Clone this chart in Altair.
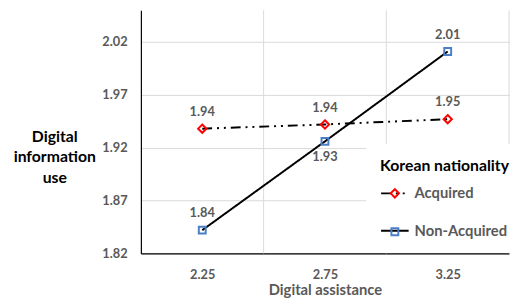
import altair as alt
import pandas as pd

# ---- data ----
x_vals = [2.25, 2.75, 3.25]
acquired = [1.938, 1.942, 1.947]
non_acquired = [1.842, 1.926, 2.011]
labels_acq = ["1.94", "1.94", "1.95"]
labels_non = ["1.84", "1.93", "2.01"]
pos_acq = ["above", "above", "above"]
pos_non = ["above", "below", "above"]
series_names = ["Acquired", "Non-Acquired"]
grid_x = [2.5, 3.0, 3.5]
y_ticks = [1.82, 1.87, 1.92, 1.97, 2.02]

rows = []
for name, vals, labs, poss in [("Acquired", acquired, labels_acq, pos_acq),
                               ("Non-Acquired", non_acquired, labels_non, pos_non)]:
    for x, v, l, p in zip(x_vals, vals, labs, poss):
        rows.append({"x": x, "y": v, "series": name, "series_pt": name, "label": l, "pos": p})
df = pd.DataFrame(rows)
grid_df = pd.DataFrame({"gx": grid_x})

FONT = "Lato"
GRAY = "#595959"
GRID = "#d9d9d9"

xscale = alt.Scale(domain=[2.0, 3.5], nice=False, zero=False)
yscale = alt.Scale(domain=[1.82, 2.05], nice=False, zero=False)

x_enc = alt.X("x:Q", scale=xscale, axis=alt.Axis(
    values=x_vals, format=".2f", grid=False, ticks=False,
    domainColor="#000000", domainWidth=1.2,
    labelFont=FONT, labelFontWeight="bold", labelFontSize=13, labelColor=GRAY,
    labelPadding=15,
    title="Digital assistance", titleFont=FONT, titleFontWeight="bold",
    titleFontSize=15, titleColor=GRAY, titlePadding=2))
y_enc = alt.Y("y:Q", scale=yscale, axis=alt.Axis(
    values=y_ticks, format=".2f", grid=True, gridColor=GRID, gridWidth=1,
    ticks=False, domainColor="#000000", domainWidth=1.2,
    labelFont=FONT, labelFontWeight="bold", labelFontSize=13, labelColor=GRAY,
    labelPadding=14,
    title=["Digital", "information", "use"], titleFont=FONT, titleFontWeight="bold",
    titleFontSize=16, titleColor="#000000", titleAngle=0, titleAlign="center",
    titleBaseline="top", titleX=-88, titleY=120, titleLineHeight=21))

grid_rules = alt.Chart(grid_df).mark_rule(color=GRID, strokeWidth=1).encode(
    x=alt.X("gx:Q", scale=xscale))

P = 14
LX = 243 - P
LY = 150 - P
TP = 5
RP = 15

lines = alt.Chart(df).mark_line(color="#000000", strokeWidth=2).encode(
    x=x_enc, y=y_enc,
    strokeDash=alt.StrokeDash("series:N", scale=alt.Scale(
        domain=series_names, range=[[10, 5, 2, 5, 2, 5], [1, 0]]),
        legend=alt.Legend(
            orient="none", legendX=LX, legendY=LY, padding=P, fillColor="#ffffff",
            title="Korean nationality", titleFont=FONT, titleFontSize=16,
            titleFontWeight="bold", titleColor="#000000", titlePadding=TP,
            labelFont=FONT, labelFontSize=15, labelFontWeight="bold", labelColor=GRAY,
            labelOffset=5, symbolType="stroke", symbolSize=784,
            symbolStrokeColor="#000000", symbolStrokeWidth=2, rowPadding=RP)))

diamond = "M0,-0.3L0.3,0L0,0.3L-0.3,0Z"
square = "M-0.25,-0.25H0.25V0.25H-0.25Z"

points = alt.Chart(df).mark_point(filled=False, strokeWidth=2, size=784, opacity=1).encode(
    x="x:Q", y="y:Q",
    shape=alt.Shape("series_pt:N", scale=alt.Scale(domain=series_names, range=[diamond, square]),
                    legend=None),
    color=alt.Color("series_pt:N", scale=alt.Scale(domain=series_names, range=["#FF0000", "#4A7EC7"]),
                    legend=alt.Legend(
                        orient="none", legendX=LX, legendY=LY, padding=P,
                        title="Korean nationality", titleFont=FONT, titleFontSize=16,
                        titleFontWeight="bold", titleColor="transparent", titlePadding=TP,
                        labelFont=FONT, labelFontSize=15, labelFontWeight="bold",
                        labelColor="transparent", labelOffset=5,
                        symbolType=diamond, symbolSize=784, symbolStrokeWidth=2, rowPadding=RP)))

text_above = alt.Chart(df).transform_filter(alt.datum.pos == "above").mark_text(
    dy=-17, font=FONT, fontSize=13, fontWeight="bold", color=GRAY).encode(
    x="x:Q", y="y:Q", text="label:N")
text_below = alt.Chart(df).transform_filter(alt.datum.pos == "below").mark_text(
    dy=16, font=FONT, fontSize=13, fontWeight="bold", color=GRAY).encode(
    x="x:Q", y="y:Q", text="label:N")

chart = alt.layer(grid_rules, lines, points, text_above, text_below).resolve_legend(
    shape="independent", color="independent", strokeDash="independent"
).properties(
    width=374, height=247,
    autosize=alt.AutoSizeParams(type="none"),
    padding={"left": 135, "top": 0, "right": 3, "bottom": 44},
).configure_view(stroke=None)

chart.save("out.html", embed_options={"renderer": "svg", "actions": False})
